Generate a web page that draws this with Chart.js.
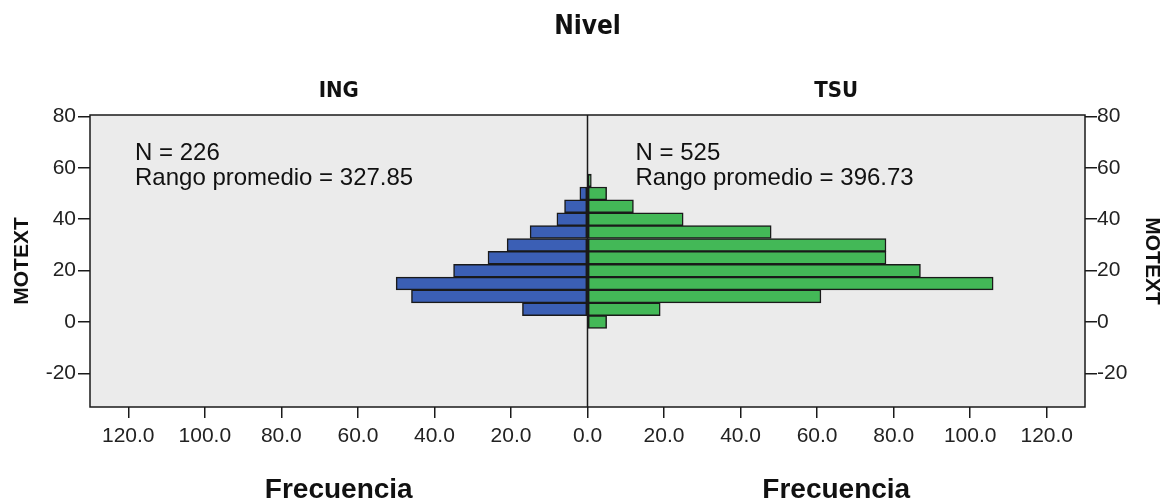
<!DOCTYPE html>
<html>
<head>
<meta charset="utf-8">
<script src="https://cdn.jsdelivr.net/npm/chart.js@4/dist/chart.umd.min.js"></script>
<style>
  html, body { margin: 0; padding: 0; background: #fff; }
  #wrap { width: 1167px; height: 501px; }
</style>
</head>
<body>
<div id="wrap"><canvas id="pyramid" width="1167" height="501"></canvas></div>
<script>
// bin centres of MOTEXT (width 5)
const bins = [0, 5, 10, 15, 20, 25, 30, 35, 40, 45, 50, 55];
const ingFreq = [0, 17, 46, 50, 35, 26, 21, 15, 8, 6, 2, 0];
const tsuFreq = [5, 19, 61, 106, 87, 78, 78, 48, 25, 12, 5, 1];

const xTickValues = [-120, -100, -80, -60, -40, -20, 0, 20, 40, 60, 80, 100, 120];
const yTickValues = [-20, 0, 20, 40, 60, 80];

const groups = ["ING", "TSU"];
const groupNotes = [
  ["N = 226", "Rango promedio = 327.85"],
  ["N = 525", "Rango promedio = 396.73"]
];

const ingData = bins.map((b, i) => ({ x: -ingFreq[i], y: b })).filter(d => d.x !== 0);
const tsuData = bins.map((b, i) => ({ x: tsuFreq[i], y: b })).filter(d => d.x !== 0);

const narrow = "'Liberation Sans Narrow', 'Arial Narrow', 'DejaVu Sans Condensed', sans-serif";
const sans = "'Liberation Sans', Arial, sans-serif";

// plot background, frame, centre line and the panel texts
const pyramidDecor = {
  id: "pyramidDecor",
  beforeDatasetsDraw(chart) {
    const { ctx, chartArea: a } = chart;
    ctx.save();
    ctx.fillStyle = "#ebebeb";
    ctx.fillRect(a.left, a.top, a.right - a.left, a.bottom - a.top);
    ctx.restore();
  },
  afterDatasetsDraw(chart) {
    const { ctx, chartArea: a, scales } = chart;
    const x0 = scales.x.getPixelForValue(0);
    ctx.save();
    ctx.strokeStyle = "#1a1a1a";
    ctx.lineWidth = 1.5;
    ctx.strokeRect(a.left, a.top, a.right - a.left, a.bottom - a.top);
    ctx.beginPath();
    ctx.moveTo(x0, a.top);
    ctx.lineTo(x0, a.bottom);
    ctx.stroke();

    ctx.fillStyle = "#111";
    ctx.textAlign = "center";
    ctx.textBaseline = "alphabetic";
    ctx.font = "bold 26px " + narrow;
    ctx.fillText("Nivel", x0, 34);

    const centres = [scales.x.getPixelForValue(-65), scales.x.getPixelForValue(65)];
    ctx.font = "bold 22px " + narrow;
    groups.forEach((g, i) => ctx.fillText(g, centres[i], 97));

    ctx.font = "bold 28px " + sans;
    centres.forEach(c => ctx.fillText("Frecuencia", c, 498));

    ctx.textAlign = "left";
    ctx.font = "24px " + sans;
    const starts = [a.left + 45, x0 + 48];
    groupNotes.forEach((lines, i) => {
      lines.forEach((t, j) => ctx.fillText(t, starts[i], 160 + j * 25));
    });
    ctx.restore();
  }
};

const tickFont = { family: sans, size: 21 };
const tickGrid = { drawOnChartArea: false, drawTicks: true, offset: false, tickLength: 12, color: "#1a1a1a", lineWidth: 1.5 };

new Chart(document.getElementById("pyramid"), {
  type: "bar",
  data: {
    datasets: [
      {
        label: "ING",
        data: ingData,
        backgroundColor: "rgb(59, 95, 181)",
        borderColor: "#1a1a1a",
        borderWidth: 1.5,
        borderSkipped: false,
        grouped: false,
        categoryPercentage: 1,
        barPercentage: 1
      },
      {
        label: "TSU",
        data: tsuData,
        backgroundColor: "rgb(67, 184, 87)",
        borderColor: "#1a1a1a",
        borderWidth: 1.5,
        borderSkipped: false,
        grouped: false,
        categoryPercentage: 1,
        barPercentage: 1
      }
    ]
  },
  options: {
    indexAxis: "y",
    responsive: false,
    animation: false,
    layout: { padding: { top: 115, left: 0, right: 0, bottom: 0 } },
    plugins: {
      legend: { display: false },
      tooltip: { enabled: false }
    },
    scales: {
      x: {
        type: "linear",
        min: -130,
        max: 130,
        offset: false,
        afterBuildTicks(scale) { scale.ticks = xTickValues.map(v => ({ value: v })); },
        afterFit(scale) { scale.height = 94; },
        grid: Object.assign({}, tickGrid, { tickLength: 11 }),
        border: { display: false },
        ticks: {
          font: tickFont,
          color: "#222",
          padding: 6,
          maxRotation: 0,
          autoSkip: false,
          callback: v => Math.abs(v).toFixed(1)
        }
      },
      y: {
        type: "linear",
        position: "left",
        min: -33,
        max: 80.5,
        offset: false,
        afterBuildTicks(scale) { scale.ticks = yTickValues.map(v => ({ value: v })); },
        afterFit(scale) { scale.width = 90; },
        grid: tickGrid,
        border: { display: false },
        ticks: { font: tickFont, color: "#222", padding: 2, autoSkip: false },
        title: { display: true, text: "MOTEXT", font: { family: sans, size: 21, weight: "bold" }, color: "#111", padding: { top: 10, bottom: 0 } }
      },
      y2: {
        type: "linear",
        position: "right",
        min: -33,
        max: 80.5,
        offset: false,
        afterBuildTicks(scale) { scale.ticks = yTickValues.map(v => ({ value: v })); },
        afterFit(scale) { scale.width = 82; },
        grid: tickGrid,
        border: { display: false },
        ticks: { font: tickFont, color: "#222", padding: 0, autoSkip: false },
        title: { display: true, text: "MOTEXT", font: { family: sans, size: 21, weight: "bold" }, color: "#111", padding: { top: 3, bottom: 0 } }
      }
    }
  },
  plugins: [pyramidDecor]
});
</script>
</body>
</html>
